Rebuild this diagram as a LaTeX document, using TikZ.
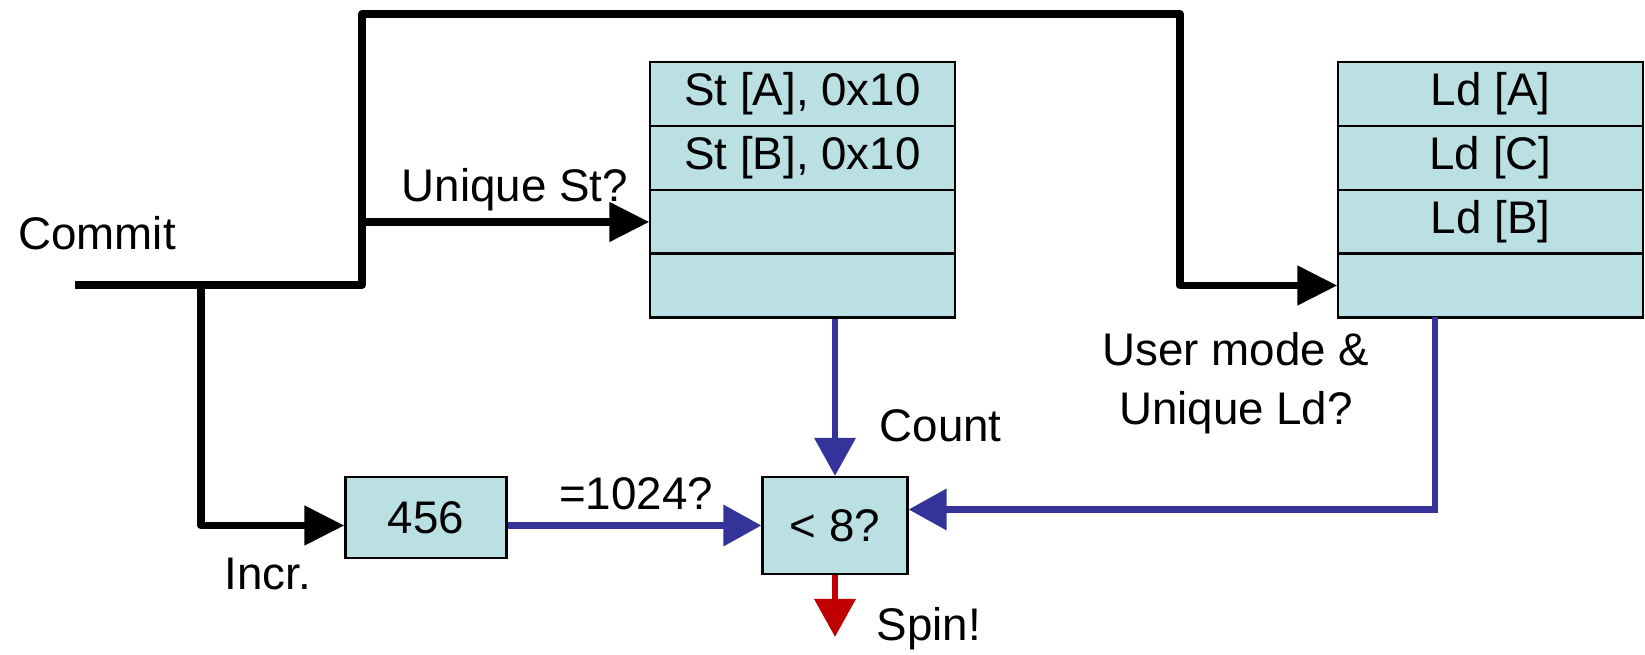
\documentclass[tikz,border=0pt]{standalone}
\usepackage{fontspec}
\setmainfont{Liberation Sans}
\usepackage{tikz}
\usetikzlibrary{arrows.meta}
\definecolor{cellfill}{HTML}{BBE0E3}
\definecolor{busblue}{HTML}{333399}
\definecolor{spinred}{HTML}{C00000}

\begin{document}
\begin{tikzpicture}[x=0.01cm, y=-0.01cm, font=\fontsize{13}{17}\selectfont,
		cell/.style={draw, fill=cellfill, line width=0.6pt, minimum width=3.04cm, minimum height=0.64cm, inner sep=0pt},
		lbl/.style={inner sep=0pt},
		wire/.style={line width=2.2pt, line join=round, -{Triangle[length=0.4cm, width=0.38cm]}},
		bus/.style={line width=1.9pt, busblue, -{Triangle[length=0.38cm, width=0.4cm]}}]
				\useasboundingbox (0,0) rectangle (1645,655);
				% store and load buffers
				\node[cell] (st1) at (802.5,94) {St [A], 0x10};
				\node[cell] (st2) at (802.5,158) {St [B], 0x10};
				\node[cell] (st3) at (802.5,222) {};
				\node[cell] (st4) at (802.5,285.5) {};
				\node[cell] (ld1) at (1490.5,94) {Ld [A]};
				\node[cell] (ld2) at (1490.5,158) {Ld [C]};
				\node[cell] (ld3) at (1490.5,222) {Ld [B]};
				\node[cell] (ld4) at (1490.5,285.5) {};
				\node[cell, minimum width=1.61cm, minimum height=0.81cm] (cnt) at (426,517.5) {456};
				\node[cell, minimum width=1.45cm, minimum height=0.97cm] (cmp) at (835,525.5) {< 8?};
				% wire corners
				\coordinate (cin) at (75,285);
				\coordinate (split) at (201,285);
				\coordinate (rise) at (362,285);
				\coordinate (top1) at (362,14);
				\coordinate (top2) at (1180,14);
				\coordinate (ldout) at (1435,317);
				\coordinate (spin) at (835,637);
				\draw[wire] (cin) -- (rise) -- (top1) -- (top2) |- (ld4.west);
				\draw[wire] (rise |- st3.west) -- (st3.west);
				\draw[wire] (split) |- (cnt.west |- cmp.west);
				\draw[bus] (st4.south -| cmp.north) -- (cmp.north);
				\draw[bus] (cnt.east |- cmp.west) -- (cmp.west);
				\draw[bus] (ldout) |- ([yshift=0.16cm]cmp.east);
				\draw[bus, spinred] (cmp.south) -- (spin);
				% labels
				\node[lbl, anchor=base] (commit) at (97,250) {Commit};
				\node[lbl, anchor=base] (uniqst) at (515,202) {Unique St?};
				\node[lbl, anchor=base west] (count) at (879,442) {Count};
				\node[lbl, anchor=base] (eqlbl) at (636,510) {=1024?};
				\node[lbl, anchor=base] (incr) at (268,590) {Incr.};
				\node[lbl, anchor=base west] (spinlbl) at (876,640) {Spin!};
				\node[lbl, anchor=base, align=center] (userld) at (1236,425) {User mode \&\\Unique Ld?};
			\end{tikzpicture}
\end{document}
